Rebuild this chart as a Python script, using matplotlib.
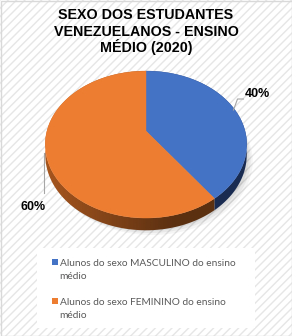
import numpy as np
import matplotlib
matplotlib.use("Agg")
import matplotlib.pyplot as plt
from matplotlib.patches import Rectangle, Polygon

# ---- data ----
title_lines = ["SEXO DOS ESTUDANTES", "VENEZUELANOS - ENSINO", "MÉDIO (2020)"]
categories = ["Alunos do sexo MASCULINO do ensino\nmédio",
              "Alunos do sexo FEMININO do ensino\nmédio"]
values = [40, 60]
top_colors = ["#4472C4", "#ED7D31"]
side_light = [(0.16, 0.26, 0.46), (0.66, 0.34, 0.12)]
side_dark = [(0.10, 0.17, 0.32), (0.36, 0.19, 0.07)]

W, H = 292, 336
fig = plt.figure(figsize=(W / 100, H / 100), dpi=100)
ax = fig.add_axes([0, 0, 1, 1])
ax.set_xlim(0, W)
ax.set_ylim(H, 0)
ax.axis("off")

plt.rcParams["hatch.linewidth"] = 1.0
plt.rcParams["hatch.color"] = "#e6e6e6"
ax.add_patch(Rectangle((0, 0), W, H, facecolor="white", edgecolor="#e6e6e6",
                       hatch="////", linewidth=0, zorder=0))
ax.add_patch(Rectangle((0.5, 0.5), W - 1, H - 1, facecolor="none",
                       edgecolor="#d9d9d9", linewidth=1.0, zorder=10))

# title
for i, line in enumerate(title_lines):
    ax.text(146, [19, 35.5, 52][i], line, ha="center", va="baseline",
            fontsize=10.3, fontweight="bold", family="Liberation Sans",
            color="#000000", zorder=5)

# ---- pseudo-3D pie with perspective ----
cx, cy0 = 146, 131
rx, ry, k, depth = 99, 71, 0.184, 10


def proj(phi):
    u = np.cos(phi)
    w = -np.sin(phi)
    s = 1.0 / (1 - k * w)
    return cx + rx * u * s, cy0 + ry * w * s, s


total = float(sum(values))
fracs = np.array(values) / total
starts = np.pi / 2 - 2 * np.pi * np.concatenate([[0], np.cumsum(fracs)[:-1]])
ends = starts - 2 * np.pi * fracs

# shadow
sh_t = np.linspace(0, 2 * np.pi, 200)
for dx, dy, a in [(6, 7, 0.04), (4, 5, 0.05), (2, 3, 0.06)]:
    x, y, s = proj(sh_t)
    ax.add_patch(Polygon(np.column_stack([x + dx, y + depth + dy]),
                         closed=True, facecolor="black", alpha=a,
                         edgecolor="none", zorder=1))

# sides with horizontal gradient
xmin, xmax = cx - rx * 1.05, cx + rx * 1.05
gx = np.linspace(0, 1, 256)
for i in range(len(values)):
    t = np.linspace(starts[i], ends[i], 300)
    x, y, s = proj(t)
    poly_x = np.r_[x, x[::-1]]
    poly_y = np.r_[y, (y + depth * s)[::-1]]
    poly = Polygon(np.column_stack([poly_x, poly_y]), closed=True,
                   facecolor="none", edgecolor="none", zorder=2)
    ax.add_patch(poly)
    f = np.clip(gx * 1.6, 0, 1)[None, :, None]
    img = np.array(side_light[i])[None, None, :] * (1 - f) + \
        np.array(side_dark[i])[None, None, :] * f
    im = ax.imshow(img, extent=[xmin, xmax, 240, 60], aspect="auto",
                   interpolation="bilinear", zorder=2)
    im.set_clip_path(poly)

# tops
for i in range(len(values)):
    t = np.linspace(starts[i], ends[i], 300)
    x, y, s = proj(t)
    pts = np.column_stack([np.r_[cx, x], np.r_[cy0, y]])
    ax.add_patch(Polygon(pts, closed=True, facecolor=top_colors[i],
                         edgecolor=top_colors[i], linewidth=0.3, zorder=3))

ax.set_xlim(0, W)
ax.set_ylim(H, 0)

# data labels with leader lines
ax.plot([233.5, 237.5, 243.5], [110, 99, 99], color="#a6a6a6", lw=0.8, zorder=4)
ax.text(257, 97, f"{values[0]}%", ha="center", va="baseline", fontsize=9,
        fontweight="bold", family="Liberation Sans", zorder=5)
ax.plot([44, 44], [153, 193], color="#a6a6a6", lw=0.8, zorder=4)
ax.text(33, 209.5, f"{values[1]}%", ha="center", va="baseline", fontsize=9,
        fontweight="bold", family="Liberation Sans", zorder=5)

# legend
ax.add_patch(Rectangle((37, 248), 218, 80, facecolor="white", edgecolor="none",
                       zorder=4))
leg_y = [259, 298]
text_y = [266, 305]
for i, cat in enumerate(categories):
    ax.add_patch(Rectangle((51.5, leg_y[i]), 6, 6, facecolor=top_colors[i],
                           edgecolor="none", zorder=5))
    l1, l2 = cat.split("\n")
    ax.text(59.5, text_y[i], l1, ha="left", va="baseline", fontsize=7.3,
            family="Lato", color="#595959", zorder=5)
    ax.text(59.5, text_y[i] + 13, l2, ha="left", va="baseline", fontsize=7.3,
            family="Lato", color="#595959", zorder=5)

fig.savefig("out.png", dpi=100)
